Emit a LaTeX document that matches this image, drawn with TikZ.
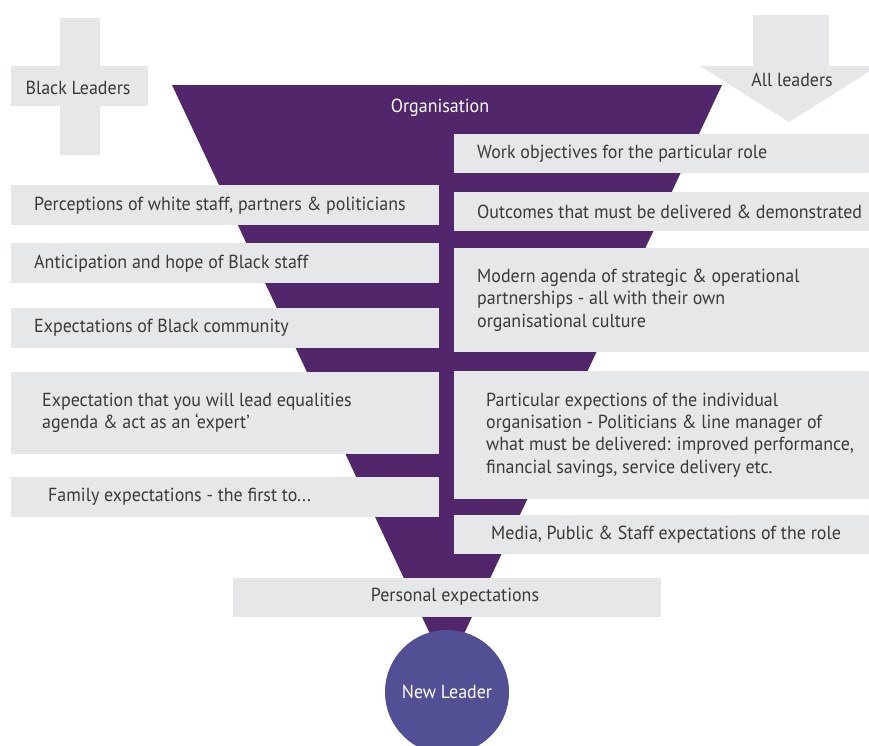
\documentclass[tikz,border=0pt]{standalone}
\usepackage{fontspec}
\setmainfont[FakeStretch=0.95]{PT Sans}
\definecolor{funnel}{HTML}{51266A}
\definecolor{leader}{HTML}{534F94}
\definecolor{boxgray}{HTML}{E6E7E9}
\definecolor{txt}{HTML}{3A3A3A}
\begin{document}
\begin{tikzpicture}[x=1pt,y=-1pt,
  box/.style={fill=boxgray, draw=none, inner sep=0pt, anchor=north west},
  lbl/.style={text=txt, inner sep=0pt, anchor=west, align=left, font=\fontsize{18.9}{22.2}\selectfont},
  clbl/.style={text=txt, inner sep=0pt, font=\fontsize{18.9}{22.2}\selectfont}]
\useasboundingbox (0,0) rectangle (869,745);
\clip (0,0) rectangle (869,745);
% plus shape
\fill[boxgray] (60,18) -- (100,18) -- (100,66) -- (148,66) -- (148,106) -- (100,106) -- (100,155) -- (60,155) -- (60,106) -- (11,106) -- (11,66) -- (60,66) -- cycle;
\node[clbl] (black) at (78,88) {Black Leaders};
% down arrow
\fill[boxgray] (753,15) -- (829,15) -- (829,66) -- (878,66) -- (789,122) -- (700,66) -- (753,66) -- cycle;
\node[clbl] (all) at (792,80) {All leaders};
% funnel
\fill[funnel] (172,85) -- (722,85) -- (447,670) -- cycle;
\node[clbl, text=white] (org) at (440,108) {Organisation};
% left boxes
\node[box, minimum width=428pt, minimum height=40pt] (b1) at (11,185) {};
\node[lbl] (t1) at ([xshift=23pt]b1.west) {Perceptions of white staff, partners \& politicians};
\node[box, minimum width=428pt, minimum height=40pt] (b2) at (11,243) {};
\node[lbl] (t2) at ([xshift=23pt]b2.west) {Anticipation and hope of Black staff};
\node[box, minimum width=428pt, minimum height=40pt] (b3) at (11,308) {};
\node[lbl] (t3) at ([xshift=23pt]b3.west) {Expectations of Black community};
\node[box, minimum width=428pt, minimum height=82pt] (b4) at (11,372) {};
\node[lbl] (t4) at ([xshift=31pt]b4.west) {Expectation that you will lead equalities\\agenda \& act as an ‘expert’};
\node[box, minimum width=428pt, minimum height=40pt] (b5) at (11,477) {};
\node[lbl] (t5) at ([xshift=37pt]b5.west) {Family expectations - the first to...};
% right boxes
\node[box, minimum width=415pt, minimum height=39pt] (r1) at (454,134) {};
\node[lbl] (s1) at ([xshift=23pt]r1.west) {Work objectives for the particular role};
\node[box, minimum width=415pt, minimum height=39pt] (r2) at (454,192) {};
\node[lbl] (s2) at ([xshift=23pt]r2.west) {Outcomes that must be delivered \& demonstrated};
\node[box, minimum width=415pt, minimum height=104pt] (r3) at (454,248) {};
\node[lbl] (s3) at ([xshift=23pt]r3.west) {Modern agenda of strategic \& operational\\partnerships - all with their own\\organisational culture};
\node[box, minimum width=415pt, minimum height=128pt] (r4) at (454,371) {};
\node[lbl] (s4) at ([xshift=32pt]r4.west) {Particular expections of the individual\\organisation - Politicians \& line manager of\\what must be delivered: improved performance,\\financial savings, service delivery etc.};
\node[box, minimum width=415pt, minimum height=39pt] (r5) at (454,515) {};
\node[lbl] (s5) at ([xshift=37pt]r5.west) {Media, Public \& Staff expectations of the role};
% personal
\node[box, minimum width=428pt, minimum height=39pt] (p) at (233,578) {};
\node[clbl] (pt) at (455,597) {Personal expectations};
% new leader
\node[circle, fill=leader, minimum size=124pt, inner sep=0pt, text=white, font=\fontsize{18.9}{22.2}\selectfont] (nl) at (447,692) {New Leader};
\end{tikzpicture}
\end{document}
